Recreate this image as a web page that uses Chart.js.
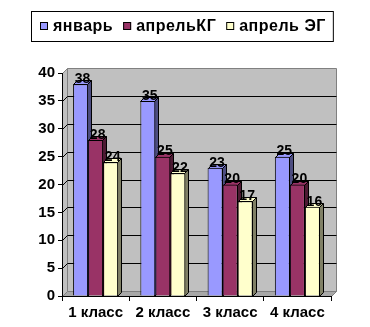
<!DOCTYPE html>
<html>
<head>
<meta charset="utf-8">
<script src="https://cdn.jsdelivr.net/npm/chart.js@4.4.0/dist/chart.umd.min.js"></script>
<style>
  html, body { margin: 0; padding: 0; background: #fff; }
  #wrap { width: 370px; height: 327px; }
</style>
</head>
<body>
<div id="wrap"><canvas id="chart"></canvas></div>
<script>
const categories = ['1 класс', '2 класс', '3 класс', '4 класс'];
const seriesNames = ['январь', 'апрельКГ', 'апрель ЭГ'];
const january = [38, 35, 23, 25];
const aprilKG = [28, 25, 20, 20];
const aprilEG = [24, 22, 17, 16];
const yMax = 40;
const yStep = 5;

const frontColors = ['#9999FF', '#993366', '#FFFFCC'];
const sideColors = ['#4D4D80', '#4D1A33', '#808066'];
const FAMILY = '"Liberation Sans", Arial, sans-serif';

// walls and floor of the 3D box, behind everything
const walls = {
  id: 'walls',
  beforeDraw(chart) {
    const {ctx, chartArea: a, scales: {y}} = chart;
    const d = 5;
    const L = Math.round(a.left) + 0.5, R = Math.round(a.right) + 0.5;
    const T = Math.round(a.top) + 0.5, B = Math.round(a.bottom) + 0.5;
    ctx.save();
    ctx.globalAlpha = 1;
    ctx.lineWidth = 1;
    // left wall
    ctx.beginPath();
    ctx.moveTo(L, T); ctx.lineTo(L + d, T - d); ctx.lineTo(L + d, B - d); ctx.lineTo(L, B);
    ctx.closePath();
    ctx.fillStyle = 'rgb(192,192,192)';
    ctx.fill();
    ctx.strokeStyle = 'rgb(128,128,128)';
    ctx.stroke();
    // back wall
    ctx.beginPath();
    ctx.rect(L + d, T - d, R - L, B - T);
    ctx.fillStyle = 'rgb(192,192,192)';
    ctx.fill();
    ctx.stroke();
    // floor
    ctx.beginPath();
    ctx.moveTo(L, B); ctx.lineTo(L + d, B - d); ctx.lineTo(R + d, B - d); ctx.lineTo(R, B);
    ctx.closePath();
    ctx.fillStyle = 'rgb(168,168,168)';
    ctx.fill();
    ctx.stroke();
    // grid lines on the walls
    ctx.strokeStyle = 'rgb(0,0,0)';
    for (let v = yStep; v < yMax; v += yStep) {
      const py = Math.round(y.getPixelForValue(v)) + 0.5;
      ctx.beginPath();
      ctx.moveTo(L, py); ctx.lineTo(L + d, py - d); ctx.lineTo(R + d, py - d);
      ctx.stroke();
    }
    ctx.restore();
  }
};

// bar depth (sides and tops) plus value labels
const barDepth = {
  id: 'barDepth',
  beforeDatasetsDraw(chart) {
    const {ctx} = chart;
    const bd = 4;
    ctx.save();
    ctx.lineWidth = 1;
    ctx.strokeStyle = '#000';
    chart.data.datasets.forEach((ds, i) => {
      chart.getDatasetMeta(i).data.forEach(bar => {
        const p = bar.getProps(['x', 'y', 'base', 'width'], true);
        const l = Math.round(p.x - p.width / 2) + 0.5;
        const r = Math.round(p.x + p.width / 2) - 0.5;
        const top = Math.round(p.y) + 0.5;
        const base = Math.round(p.base) + 0.5;
        ctx.fillStyle = sideColors[i];
        ctx.beginPath();
        ctx.moveTo(r, top); ctx.lineTo(r + bd, top - bd); ctx.lineTo(r + bd, base - bd); ctx.lineTo(r, base);
        ctx.closePath(); ctx.fill(); ctx.stroke();
        ctx.fillStyle = frontColors[i];
        ctx.beginPath();
        ctx.moveTo(l, top); ctx.lineTo(l + bd, top - bd); ctx.lineTo(r + bd, top - bd); ctx.lineTo(r, top);
        ctx.closePath(); ctx.fill(); ctx.stroke();
      });
    });
    ctx.restore();
  },
  afterDatasetsDraw(chart) {
    const {ctx} = chart;
    ctx.save();
    ctx.font = 'bold 14px ' + FAMILY;
    ctx.fillStyle = '#000';
    ctx.textAlign = 'center';
    ctx.textBaseline = 'bottom';
    chart.data.datasets.forEach((ds, i) => {
      chart.getDatasetMeta(i).data.forEach((bar, j) => {
        ctx.fillText(String(ds.data[j]), bar.x + 2, bar.y + 2);
      });
    });
    ctx.restore();
  }
};

// boxed legend at the top
const boxLegend = {
  id: 'boxLegend',
  afterDraw(chart) {
    const {ctx} = chart;
    ctx.save();
    ctx.font = 'bold 16px ' + FAMILY;
    ctx.letterSpacing = '0.5px';
    ctx.textBaseline = 'middle';
    const box = 8, gap = 5, spacing = 10, cy = 26;
    const widths = seriesNames.map(n => ctx.measureText(n).width);
    const total = widths.reduce((s, w) => s + box + gap + w, 0) + spacing * (seriesNames.length - 1);
    let x = Math.round(183 - total / 2);
    ctx.strokeStyle = '#000';
    ctx.lineWidth = 1;
    ctx.strokeRect(x - 8.5, 11.5, total + 16, 30);
    seriesNames.forEach((n, i) => {
      ctx.fillStyle = frontColors[i];
      ctx.fillRect(x, cy - 4, box, box);
      ctx.strokeRect(x + 0.5, cy - 3.5, box - 1, box - 1);
      ctx.fillStyle = '#000';
      ctx.fillText(n, x + box + gap, cy + 1);
      x += box + gap + widths[i] + spacing;
    });
    ctx.restore();
  }
};

new Chart(document.getElementById('chart'), {
  type: 'bar',
  data: {
    labels: categories,
    datasets: [january, aprilKG, aprilEG].map((data, i) => ({
      label: seriesNames[i],
      data: data,
      backgroundColor: frontColors[i],
      borderColor: '#000',
      borderWidth: 1,
      categoryPercentage: 0.67,
      barPercentage: 1.0
    }))
  },
  options: {
    responsive: true,
    maintainAspectRatio: false,
    animation: false,
    layout: { padding: { top: 73, right: 39, left: 0, bottom: 0 } },
    plugins: {
      legend: { display: false },
      tooltip: { enabled: false }
    },
    scales: {
      x: {
        afterFit(scale) { scale.height = 31; },
        grid: { offset: true, drawOnChartArea: false, tickLength: 5, color: '#000' },
        border: { color: '#000' },
        ticks: { color: '#000', font: { family: FAMILY, size: 15, weight: 'bold' }, padding: 3, maxRotation: 0 }
      },
      y: {
        min: 0,
        max: yMax,
        afterFit(scale) { scale.width = 62; },
        grid: { drawOnChartArea: false, tickLength: 4, color: '#000' },
        border: { color: '#000' },
        ticks: { stepSize: yStep, color: '#000', font: { family: FAMILY, size: 15, weight: 'bold' }, padding: 3 }
      }
    }
  },
  plugins: [walls, barDepth, boxLegend]
});
</script>
</body>
</html>
